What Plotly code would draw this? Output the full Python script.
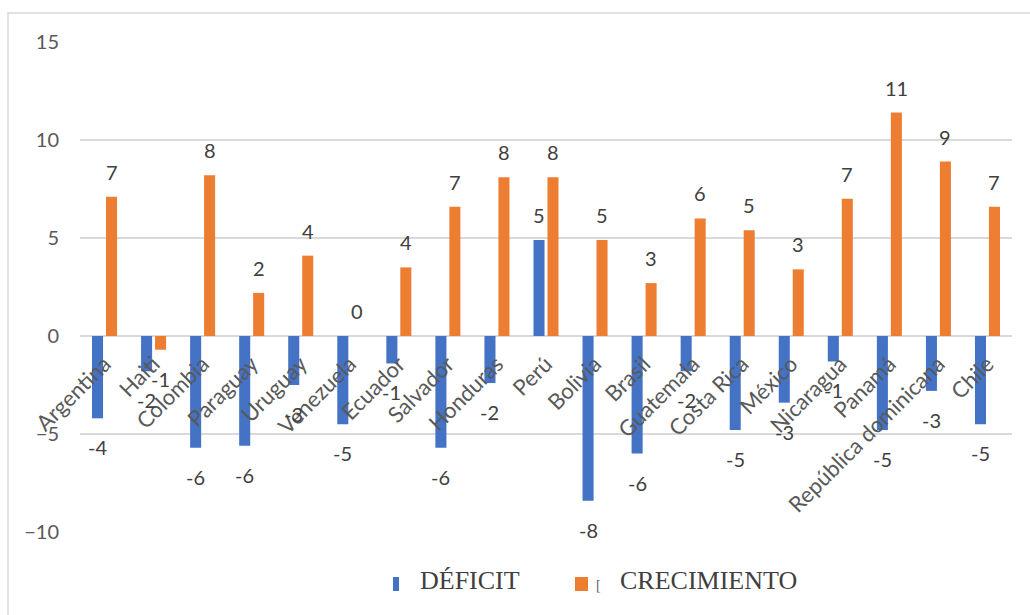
import plotly.graph_objects as go
from decimal import Decimal, ROUND_HALF_UP

# Countries and their fiscal deficit / GDP growth figures
paises = [
    "Argentina", "Haiti", "Colombia", "Paraguay", "Uruguay", "Venezuela",
    "Ecuador", "Salvador", "Honduras", "Perú", "Bolivia", "Brasil",
    "Guatemala", "Costa Rica", "México", "Nicaragua", "Panamá",
    "República dominicana", "Chile",
]
deficit = [
    -4.2, -1.8, -5.7, -5.6, -2.5, -4.5, -1.4, -5.7, -2.4, 4.9,
    -8.4, -6.0, -1.8, -4.8, -3.4, -1.3, -4.8, -2.8, -4.5,
]
crecimiento = [
    7.1, -0.7, 8.2, 2.2, 4.1, 0.0, 3.5, 6.6, 8.1, 8.1,
    4.9, 2.7, 6.0, 5.4, 3.4, 7.0, 11.4, 8.9, 6.6,
]
y_ticks = [-10, -5, 0, 5, 10, 15]

AZUL = "#4472C4"
NARANJA = "#ED7D31"
GRIS_TXT = "#595959"
GRIS_ETQ = "#404040"
GRIS_LIN = "#D9D9D9"
SANS = "Lato, Carlito, Calibri, sans-serif"
SERIF = "Liberation Serif, Times New Roman, serif"

W, H = 1030, 615
ML, MR, MT, MB = 80, 18, 42, 83
PW, PH = W - ML - MR, H - MT - MB


def px_x(v):
    return (v - ML) / PW


def px_y(v):
    return (H - MB - v) / PH


def redondeo(v):
    # spreadsheet-style rounding: halves go away from zero
    n = int(Decimal(str(v)).quantize(Decimal("1"), rounding=ROUND_HALF_UP))
    return str(n)


fig = go.Figure()
fig.add_trace(go.Bar(x=paises, y=deficit, name="DÉFICIT",
                     marker=dict(color=AZUL, line=dict(width=0))))
fig.add_trace(go.Bar(x=paises, y=crecimiento, name="CRECIMIENTO",
                     marker=dict(color=NARANJA, line=dict(width=0))))

# Rounded value labels just past the end of each bar
annotations = []
for serie, dx in ((deficit, -7), (crecimiento, 7)):
    for pais, v in zip(paises, serie):
        annotations.append(dict(
            x=pais, y=v, xref="x", yref="y", text=redondeo(v),
            showarrow=False, xshift=dx, yshift=25 if v >= 0 else -29,
            yanchor="middle", font=dict(family=SANS, size=20, color=GRIS_ETQ),
        ))

# Hand-built legend under the plot
annotations.append(dict(x=px_x(418), y=px_y(580), xref="paper", yref="paper",
                        text="DÉFICIT", showarrow=False, xanchor="left", yanchor="middle",
                        font=dict(family=SERIF, size=26, color=GRIS_ETQ)))
annotations.append(dict(x=px_x(594), y=px_y(585), xref="paper", yref="paper",
                        text="[", showarrow=False, xanchor="left", yanchor="middle",
                        font=dict(family=SERIF, size=14, color=GRIS_TXT)))
annotations.append(dict(x=px_x(618), y=px_y(580), xref="paper", yref="paper",
                        text="CRECIMIENTO", showarrow=False, xanchor="left", yanchor="middle",
                        font=dict(family=SERIF, size=26, color=GRIS_ETQ)))

shapes = [
    # outer chart frame
    dict(type="rect", xref="paper", yref="paper",
         x0=px_x(8), x1=px_x(1060), y0=px_y(640), y1=px_y(13),
         line=dict(color=GRIS_LIN, width=1.5), fillcolor="rgba(0,0,0,0)", layer="below"),
    # legend swatches
    dict(type="rect", xref="paper", yref="paper",
         x0=px_x(393), x1=px_x(399), y0=px_y(591), y1=px_y(577),
         line=dict(width=0), fillcolor=AZUL),
    dict(type="rect", xref="paper", yref="paper",
         x0=px_x(575), x1=px_x(588), y0=px_y(591), y1=px_y(577),
         line=dict(width=0), fillcolor=NARANJA),
]

y_min, y_max = -10, 15
fig.update_layout(
    width=W, height=H,
    margin=dict(l=ML, r=MR, t=MT, b=MB, pad=0),
    paper_bgcolor="white", plot_bgcolor="white",
    barmode="group", bargap=0.43, bargroupgap=0.21,
    showlegend=False,
    annotations=annotations,
    shapes=shapes,
    xaxis=dict(
        type="category", anchor="free",
        position=(0 - y_min) / (y_max - y_min),
        tickangle=-45, showgrid=False, showline=False, zeroline=False,
        ticks="", ticklabelstandoff=10,
        tickfont=dict(family=SANS, size=22, color=GRIS_TXT),
    ),
    yaxis=dict(
        range=[y_min, y_max], tickvals=y_ticks,
        showgrid=True, gridcolor=GRIS_LIN, gridwidth=1.5,
        zeroline=True, zerolinecolor=GRIS_LIN, zerolinewidth=1.5,
        showline=False, ticks="", ticklabelstandoff=20,
        tickfont=dict(family=SANS, size=20, color=GRIS_TXT),
    ),
)

fig.write_html("out.html")
